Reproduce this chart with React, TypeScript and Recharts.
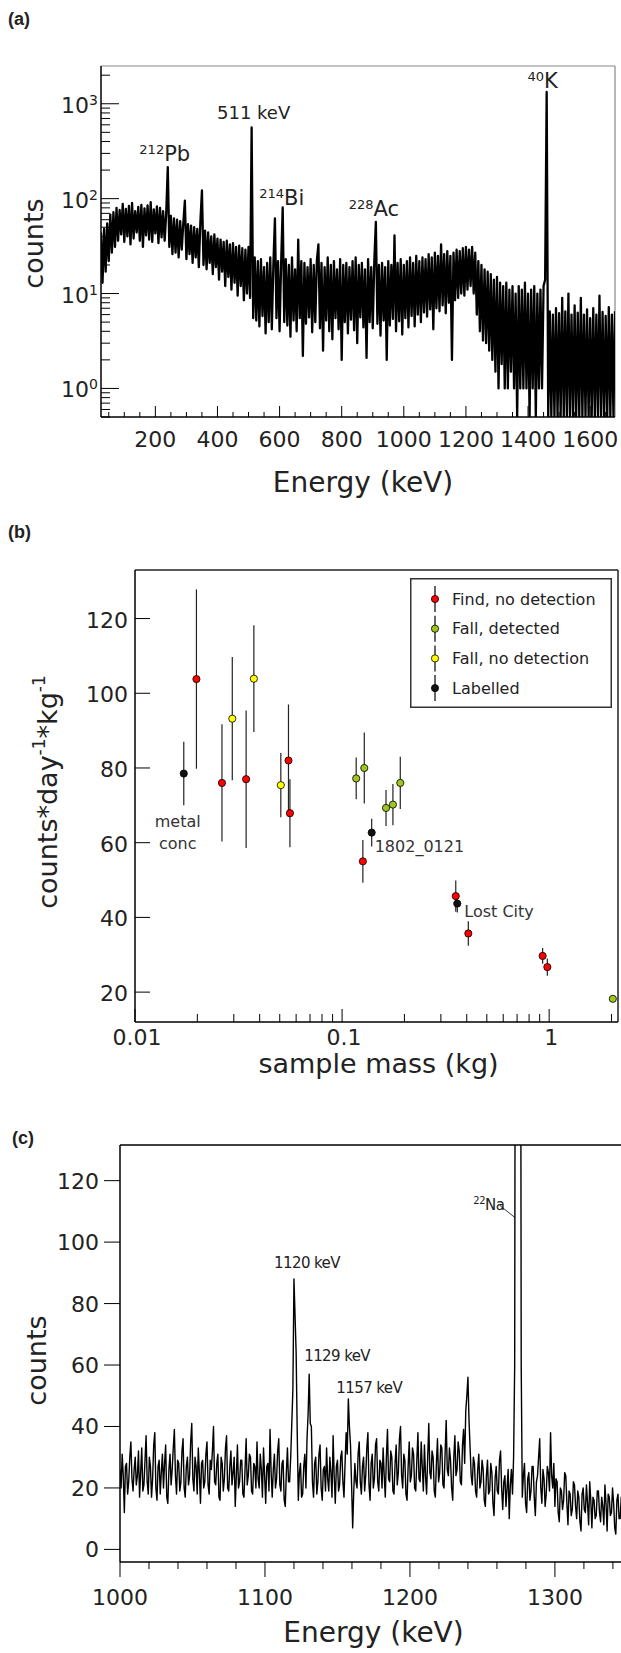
import React from "react";
import {
  LineChart,
  Line,
  ScatterChart,
  Scatter,
  ErrorBar,
  XAxis,
  YAxis,
  Label,
  Legend,
  ReferenceLine,
  ReferenceDot,
} from "recharts";

const FONT = "'DejaVu Sans', Verdana, sans-serif";
const INK = "#222";

// ---------- (a) background spectrum, 5 keV bins starting at 25 keV ----------
const A_START = 25;
const A_STEP = 5;
const countsA = [
  44, 13, 48, 17, 55, 22, 68, 27, 72, 31,
  80, 36, 76, 42, 88, 35, 78, 40, 84, 33,
  90, 38, 74, 44, 82, 36, 86, 31, 79, 41,
  85, 37, 92, 35, 77, 43, 83, 34, 80, 39,
  74, 36, 70, 215, 31, 66, 26, 62,
  27, 60, 24, 58, 29, 55, 95, 23, 54, 26,
  52, 21, 50, 24, 48, 19, 57, 122, 20, 46,
  18, 44, 21, 40, 16, 42, 19, 38, 14, 37,
  17, 35, 12, 36, 15, 33, 11, 34, 13, 31,
  9.5, 32, 12, 30, 8.5, 29, 10, 31,
  9, 562, 5.5, 24,
  5.2, 22, 4.5, 23, 5.8, 19, 3.8, 21, 5, 24,
  4.2, 20, 62, 5.5, 22, 4, 21, 81, 5, 23,
  4.6, 20, 3.5, 24, 5.2, 18, 4, 37, 5.5, 22,
  2.2, 21, 4.8, 19, 5.6, 23, 3.9, 20, 5, 22,
  33, 4.3, 21, 2.5, 19, 5.2, 24, 4, 20, 3.3,
  22, 5.5, 18, 4.2, 23, 2, 20, 5, 21, 3.8,
  19, 5.3, 22, 4.1, 24, 3, 20, 5.6, 21, 4.4,
  18, 2.1, 23, 5, 19, 4.3, 22, 57, 4.8, 20,
  3.6, 21, 5.2, 19, 2, 22, 4.6, 20, 5.4, 41,
  4, 21, 5.1, 23, 3.7, 20, 5.5, 22, 4.4, 24,
  5.8, 21, 4.5, 25, 6, 22, 5, 24, 6.3, 23,
  5.7, 26, 6.8, 24, 4.2, 27, 7, 25, 6.5, 33,
  7.5, 26, 6.2, 28, 8, 25, 2, 27, 8.5, 29,
  9, 28, 10, 30, 9.5, 31, 11, 29, 12, 31,
  10, 27, 6, 22, 4, 20, 3.2, 18, 3, 17,
  2.5, 16, 2, 14, 1.5, 15, 1, 13, 1.8, 12,
  1, 13, 1, 11, 1.5, 12, 1, 10, 0.5, 12,
  1, 11, 1, 13, 1, 10, 0.5, 11, 1, 12,
  0.5, 10, 1, 11, 1, 12, 14,
  1330,
  0.5, 6.5, 0.5, 6, 0.5, 7, 0.5, 6.2, 0.5, 9,
  0.5, 6.5, 0.5, 10, 0.5, 6, 0.5, 7.5, 0.5, 6.3,
  0.5, 9, 0.5, 6, 0.5, 6.8, 0.5, 5.5, 0.5, 7,
  0.5, 6, 0.5, 9.5, 0.5, 6.4, 0.5, 5.8, 0.5, 7.2,
  0.5, 6, 0.5, 6.5,
];

const peakLabelsA = [
  { e: 240, c: 215, sup: "212", text: "Pb" },
  { e: 510, c: 562, sup: "", text: "511 keV" },
  { e: 610, c: 81, sup: "214", text: "Bi" },
  { e: 910, c: 57, sup: "228", text: "Ac" },
  { e: 1460, c: 1330, sup: "40", text: "K" },
];
const peakLabelOffsetsA = [
  [-3, -6],
  [2, -9],
  [-1, -2],
  [-2, -6],
  [-4, -4],
];

const xMajorA = [200, 400, 600, 800, 1000, 1200, 1400, 1600];
const yMajorA = [1, 10, 100, 1000];

// ---------- (b) activity vs sample mass ----------
const findMass = [0.0198, 0.0263, 0.0344, 0.0551, 0.056, 0.126, 0.354, 0.407, 0.93, 0.98];
const findRate = [103.8, 76.0, 77.0, 82.0, 67.9, 55.0, 45.7, 35.7, 29.7, 26.7];
const findErr = [24, 15.7, 18.4, 15, 9.1, 5.7, 4.2, 3.3, 2.1, 2.3];

const fallDetMass = [0.117, 0.128, 0.163, 0.176, 0.191, 2.03];
const fallDetRate = [77.2, 80.0, 69.3, 70.2, 76.0, 18.2];
const fallDetErr = [5.6, 9.5, 4.8, 5.5, 7.0, 0.8];

const fallNoMass = [0.0295, 0.0375, 0.0506];
const fallNoRate = [93.2, 103.9, 75.4];
const fallNoErr = [16.5, 14.3, 8.6];

const labelledMass = [0.0172, 0.139, 0.36];
const labelledRate = [78.5, 62.7, 43.7];
const labelledErr = [8.5, 3.7, 2.4];
const labelledNames = ["metal conc", "1802_0121", "Lost City"];

const xMajorB = [0.01, 0.1, 1];
const yTicksB = [20, 40, 60, 80, 100, 120];

// ---------- (c) zoomed spectrum, 0.75 keV bins starting at 1000 keV ----------
const C_START = 1000;
const C_STEP = 0.75;
const countsC = [
  26, 20, 31, 24, 12, 27, 28, 18, 22, 30, 35, 23, 19, 26, 30, 21, 24, 32, 17, 25,
  33, 19, 21, 29, 37, 22, 18, 30, 27, 17, 23, 34, 38, 20, 16, 27, 29, 18, 25, 31,
  20, 28, 34, 17, 15, 26, 31, 21, 26, 33, 39, 24, 18, 29, 28, 19, 22, 32, 36, 20,
  17, 27, 30, 21, 24, 35, 41, 23, 19, 30, 27, 18, 33, 25, 15, 28, 29, 20, 22, 31,
  35, 21, 18, 29, 26, 32, 40, 22, 21, 28, 31, 17, 16, 30, 28, 19, 23, 33, 37, 20,
  19, 27, 32, 21, 25, 30, 14, 24, 34, 20, 22, 29, 29, 18, 17, 26, 36, 21, 24, 31,
  30, 19, 18, 28, 27, 20, 35, 23, 20, 31, 26, 17, 33, 24, 15, 27, 28, 19, 39, 25,
  17, 26, 31, 20, 23, 32, 36, 21, 19, 28, 29, 16, 14, 25, 33, 22, 22, 30, 41, 52,
  88, 76, 64, 38, 16, 25, 28, 17, 18, 27, 31, 20, 36, 44, 57, 41, 40, 22, 17, 28,
  30, 18, 22, 31, 34, 20, 16, 26, 27, 19, 33, 23, 19, 30, 25, 17, 37, 24, 15, 27,
  29, 19, 21, 30, 32, 22, 17, 28, 38, 31, 49, 40, 34, 21, 7, 19, 28, 22, 20, 31,
  35, 22, 18, 27, 30, 19, 24, 33, 38, 21, 16, 28, 31, 20, 23, 34, 36, 22, 19, 29,
  28, 20, 33, 24, 17, 30, 39, 23, 22, 32, 30, 19, 18, 28, 34, 21, 25, 36, 40, 24,
  20, 31, 29, 18, 16, 27, 35, 22, 24, 33, 31, 20, 19, 29, 38, 23, 22, 35, 27, 19,
  34, 24, 18, 30, 41, 25, 23, 32, 30, 19, 17, 28, 36, 22, 25, 34, 33, 21, 20, 31,
  42, 26, 24, 33, 29, 20, 16, 30, 37, 24, 26, 35, 32, 22, 21, 34, 39, 28, 45, 50,
  56, 42, 33, 24, 21, 30, 28, 19, 17, 26, 31, 20, 22, 29, 26, 16, 14, 24, 29, 18,
  19, 28, 25, 15, 11, 23, 27, 19, 18, 29, 32, 20, 13, 22, 24, 14, 20, 26, 10, 21,
  26, 18, 30, 60, 320, 340, 340, 340, 320, 60, 17, 24, 28, 15, 12, 23, 25, 16, 19, 27,
  27, 17, 11, 22, 24, 30, 36, 20, 15, 26, 23, 14, 18, 27, 25, 19, 38, 24, 20, 28,
  14, 23, 22, 12, 9, 20, 19, 13, 16, 25, 24, 15, 8, 19, 18, 11, 13, 22, 21, 14,
  10, 19, 17, 9, 6, 18, 20, 13, 12, 21, 15, 8, 22, 16, 7, 17, 16, 10, 11, 19,
  19, 12, 9, 17, 14, 8, 21, 15, 6, 18, 17, 11, 12, 20, 15, 7, 5, 16, 18, 10,
  10, 17, 13, 6, 19, 12, 7, 15, 14, 9, 11, 18, 16, 8, 6, 14, 13,
];

const peakLabelsC = [
  { e: 1120, c: 88, text: "1120 keV" },
  { e: 1130.5, c: 57, text: "1129 keV" },
  { e: 1157.5, c: 49, text: "1157 keV" },
];
const peakLabelOffsetsC = [
  [13, -11, "middle"],
  [-5, -13, "start"],
  [-12, -6, "start"],
];
const naLabel = { e: 1272.4, c: 108, sup: "22", text: "Na" };

const xMajorC = [1000, 1100, 1200, 1300];
const yTicksC = [0, 20, 40, 60, 80, 100, 120];

// ---------- derived tables ----------
const specA = countsA.map((c, i) => ({ e: A_START + i * A_STEP, c }));
const specC = countsC.map((c, i) => ({ e: C_START + i * C_STEP, c }));

const zip = (m: number[], v: number[], err: number[]) =>
  m.map((x, i) => ({ m: x, v: v[i], err: err[i] }));

const groupsB = [
  { name: "Find, no detection", color: "#ff0000", data: zip(findMass, findRate, findErr) },
  { name: "Fall, detected", color: "#9fc61f", data: zip(fallDetMass, fallDetRate, fallDetErr) },
  { name: "Fall, no detection", color: "#ffff00", data: zip(fallNoMass, fallNoRate, fallNoErr) },
  { name: "Labelled", color: "#111111", data: zip(labelledMass, labelledRate, labelledErr) },
];
const labelOffsetsB = [
  [-6, 53],
  [3, 19],
  [7, 13],
];

function logTicks(lo: number, hi: number) {
  const out: number[] = [];
  for (let p = -3; p <= 4; p++) {
    for (let k = 1; k <= 9; k++) {
      const v = +(k * Math.pow(10, p)).toPrecision(3);
      if (v >= lo && v <= hi) out.push(v);
    }
  }
  return out;
}

const ticksAX = Array.from({ length: 33 }, (_, i) => 50 + i * 50);
const ticksAY = logTicks(0.5, 2500);
const ticksBX = logTicks(0.01, 2.15);
const ticksCX = Array.from({ length: 18 }, (_, i) => 1000 + i * 20);

// ---------- tick renderers ----------
function TickAX(props: any) {
  const { x, y, payload } = props;
  const major = xMajorA.includes(payload.value);
  return (
    <g>
      <line x1={x} x2={x} y1={y} y2={y - (major ? 11 : 5)} stroke="#000" />
      {major && (
        <text x={x} y={y + 30} textAnchor="middle" fontSize={22} fill={INK}>
          {payload.value}
        </text>
      )}
    </g>
  );
}

function TickAY(props: any) {
  const { x, y, payload } = props;
  const major = yMajorA.includes(payload.value);
  const exp = Math.round(Math.log10(payload.value));
  return (
    <g>
      <line x1={x} x2={x + (major ? 18 : 9)} y1={y} y2={y} stroke="#000" />
      {major && (
        <text x={x - 3} y={y + 9} textAnchor="end" fontSize={22} fill={INK}>
          10
          <tspan fontSize={14} dy={-8}>
            {exp}
          </tspan>
        </text>
      )}
    </g>
  );
}

function TickBX(props: any) {
  const { x, y, payload } = props;
  const major = xMajorB.includes(payload.value);
  return (
    <g>
      <line x1={x} x2={x} y1={y} y2={y - (major ? 13 : 8)} stroke="#000" />
      {major && (
        <text x={x + 2} y={y + 23} textAnchor="middle" fontSize={22} fill={INK}>
          {payload.value}
        </text>
      )}
    </g>
  );
}

function TickBY(props: any) {
  const { x, y, payload } = props;
  return (
    <g>
      <line x1={x} x2={x + 15} y1={y} y2={y} stroke="#000" />
      <text x={x - 7} y={y + 9} textAnchor="end" fontSize={22} fill={INK}>
        {payload.value}
      </text>
    </g>
  );
}

function TickCX(props: any) {
  const { x, y, payload } = props;
  const major = xMajorC.includes(payload.value);
  return (
    <g>
      <line x1={x} x2={x} y1={y} y2={y + (major ? 15 : 7)} stroke="#000" />
      {major && (
        <text x={x} y={y + 43} textAnchor="middle" fontSize={22} fill={INK}>
          {payload.value}
        </text>
      )}
    </g>
  );
}

function TickCY(props: any) {
  const { x, y, payload } = props;
  return (
    <g>
      <line x1={x - 16} x2={x} y1={y} y2={y} stroke="#000" />
      <text x={x - 21} y={y + 8} textAnchor="end" fontSize={22} fill={INK}>
        {payload.value}
      </text>
    </g>
  );
}

// ---------- axis titles ----------
const xTitle = (text: string, dx: number, dy: number, size = 28) => (props: any) => {
  const vb = props.viewBox;
  return (
    <text x={vb.x + vb.width / 2 + dx} y={vb.y + dy} textAnchor="middle" fontSize={size} fill={INK}>
      {text}
    </text>
  );
};

const yTitle = (text: string, dx: number, dy: number) => (props: any) => {
  const vb = props.viewBox;
  const x = vb.x + dx;
  const y = vb.y + vb.height / 2 + dy;
  return (
    <text x={x} y={y} transform={`rotate(-90, ${x}, ${y})`} textAnchor="middle" fontSize={27} fill={INK}>
      {text}
    </text>
  );
};

const rateTitle = (props: any) => {
  const vb = props.viewBox;
  const x = vb.x - 18;
  const y = vb.y + vb.height / 2 - 4;
  return (
    <text x={x} y={y} transform={`rotate(-90, ${x}, ${y})`} textAnchor="middle" fontSize={27} fill={INK}>
      counts*day
      <tspan fontSize={17} dy={-12}>
        -1
      </tspan>
      <tspan dy={12}>*kg</tspan>
      <tspan fontSize={17} dy={-12}>
        -1
      </tspan>
    </text>
  );
};

const dotShape = (color: string) => (props: any) => (
  <circle cx={props.cx} cy={props.cy} r={3.6} fill={color} stroke="#000" strokeWidth={0.8} />
);

const legendB = () => (
  <svg width={202} height={130} style={{ display: "block" }}>
    <rect x={0.75} y={0.75} width={200.5} height={128.5} fill="#fff" stroke="#333" strokeWidth={1.5} />
    {groupsB.map((g, i) => {
      const cy = 21 + i * 29.7;
      return (
        <g key={g.name}>
          <line x1={25} x2={25} y1={cy - 13} y2={cy + 13} stroke="#000" strokeWidth={1.2} />
          <circle cx={25} cy={cy} r={3.6} fill={g.color} stroke="#000" strokeWidth={0.8} />
          <text x={42} y={cy + 5.5} fontSize={16} fill={INK}>
            {g.name}
          </text>
        </g>
      );
    })}
  </svg>
);

const axisLine = { stroke: "#000", strokeWidth: 1.5 };

export default function App() {
  return (
    <div
      style={{
        position: "absolute",
        left: 0,
        top: 0,
        width: 621,
        height: 1653,
        overflow: "hidden",
        background: "#fff",
        fontFamily: FONT,
      }}
    >
      {/* (a) */}
      <div style={{ position: "absolute", left: 0, top: 0 }}>
        <LineChart width={621} height={500} data={specA} margin={{ top: 66, right: 6, bottom: 0, left: 41 }}>
          <XAxis
            dataKey="e"
            type="number"
            domain={[25, 1680]}
            allowDataOverflow
            ticks={ticksAX}
            interval={0}
            tick={TickAX}
            tickLine={false}
            tickSize={0}
            tickMargin={0}
            height={83}
            axisLine={axisLine}
          >
            <Label content={xTitle("Energy (keV)", 5, 75)} />
          </XAxis>
          <YAxis
            type="number"
            scale="log"
            domain={[0.5, 2500]}
            allowDataOverflow
            ticks={ticksAY}
            interval={0}
            tick={TickAY}
            tickLine={false}
            tickSize={0}
            tickMargin={0}
            width={60}
            axisLine={axisLine}
          >
            <Label content={yTitle("counts", 2, 2)} />
          </YAxis>
          <ReferenceLine y={2500} stroke="#888" strokeWidth={1.2} />
          <ReferenceLine x={1680} stroke="#888" strokeWidth={1.2} />
          <Line
            type="linear"
            dataKey="c"
            stroke="#000"
            strokeWidth={2.3}
            strokeLinejoin="round"
            dot={false}
            isAnimationActive={false}
          />
          {peakLabelsA.map((p, i) => (
            <ReferenceDot
              key={p.text}
              x={p.e}
              y={p.c}
              r={0}
              shape={(d: any) => (
                <text
                  x={d.cx + peakLabelOffsetsA[i][0]}
                  y={d.cy + peakLabelOffsetsA[i][1]}
                  textAnchor="middle"
                  fill={INK}
                  fontSize={p.sup ? 21 : 18}
                >
                  {p.sup && (
                    <tspan fontSize={13} dy={-7}>
                      {p.sup}
                    </tspan>
                  )}
                  <tspan dy={p.sup ? 7 : 0}>{p.text}</tspan>
                </text>
              )}
            />
          ))}
        </LineChart>
      </div>

      {/* (b) */}
      <div style={{ position: "absolute", left: 0, top: 540 }}>
        <ScatterChart width={621} height={560} margin={{ top: 30, right: 3, bottom: 0, left: 75 }}>
          <XAxis
            dataKey="m"
            type="number"
            scale="log"
            domain={[0.01, 2.15]}
            allowDataOverflow
            ticks={ticksBX}
            interval={0}
            tick={TickBX}
            tickLine={false}
            tickSize={0}
            tickMargin={0}
            height={78}
            axisLine={axisLine}
          >
            <Label content={xTitle("sample mass (kg)", 2, 51, 27)} />
          </XAxis>
          <YAxis
            dataKey="v"
            type="number"
            domain={[12, 133]}
            allowDataOverflow
            ticks={yTicksB}
            interval={0}
            tick={TickBY}
            tickLine={false}
            tickSize={0}
            tickMargin={0}
            width={60}
            axisLine={axisLine}
          >
            <Label content={rateTitle} />
          </YAxis>
          <ReferenceLine y={133} stroke="#222" strokeWidth={1.5} />
          <ReferenceLine x={2.15} stroke="#222" strokeWidth={1.5} />
          {groupsB.map((g) => (
            <Scatter
              key={g.name}
              name={g.name}
              data={g.data}
              fill={g.color}
              shape={dotShape(g.color)}
              isAnimationActive={false}
            >
              <ErrorBar
                dataKey="err"
                direction="y"
                width={0}
                stroke="#222"
                strokeWidth={1.2}
                isAnimationActive={false}
              />
            </Scatter>
          ))}
          {labelledNames.map((name, i) => (
            <ReferenceDot
              key={name}
              x={labelledMass[i]}
              y={labelledRate[i]}
              r={0}
              shape={(d: any) =>
                i === 0 ? (
                  <text textAnchor="middle" fontSize={16} fill="#333">
                    {name.split(" ").map((w, k) => (
                      <tspan key={w} x={d.cx + labelOffsetsB[i][0]} y={d.cy + labelOffsetsB[i][1] + k * 22}>
                        {w}
                      </tspan>
                    ))}
                  </text>
                ) : (
                  <text
                    x={d.cx + labelOffsetsB[i][0]}
                    y={d.cy + labelOffsetsB[i][1]}
                    fontSize={16}
                    fill="#333"
                  >
                    {name}
                  </text>
                )
              }
            />
          ))}
          <Legend
            verticalAlign="middle"
            align="center"
            layout="horizontal"
            content={legendB}
            wrapperStyle={{ position: "absolute", left: 410, top: 38, width: 202, height: 130 }}
          />
        </ScatterChart>
      </div>

      {/* (c) */}
      <div style={{ position: "absolute", left: 0, top: 1110 }}>
        <LineChart width={650} height={543} data={specC} margin={{ top: 35, right: 11, bottom: 0, left: 60 }}>
          <XAxis
            dataKey="e"
            type="number"
            domain={[1000, 1358]}
            allowDataOverflow
            ticks={ticksCX}
            interval={0}
            tick={TickCX}
            tickLine={false}
            tickSize={0}
            tickMargin={0}
            height={91}
            axisLine={axisLine}
          >
            <Label content={xTitle("Energy (keV)", -6, 80)} />
          </XAxis>
          <YAxis
            type="number"
            domain={[-4.1, 131.6]}
            allowDataOverflow
            ticks={yTicksC}
            interval={0}
            tick={TickCY}
            tickLine={false}
            tickSize={0}
            tickMargin={0}
            width={60}
            axisLine={axisLine}
          >
            <Label content={yTitle("counts", -14, 7)} />
          </YAxis>
          <ReferenceLine y={131.6} stroke="#000" strokeWidth={1.5} />
          <Line
            type="linear"
            dataKey="c"
            stroke="#000"
            strokeWidth={1.4}
            strokeLinejoin="round"
            dot={false}
            isAnimationActive={false}
          />
          {peakLabelsC.map((p, i) => (
            <ReferenceDot
              key={p.text}
              x={p.e}
              y={p.c}
              r={0}
              shape={(d: any) => (
                <text
                  x={d.cx + (peakLabelOffsetsC[i][0] as number)}
                  y={d.cy + (peakLabelOffsetsC[i][1] as number)}
                  textAnchor={peakLabelOffsetsC[i][2] as any}
                  fontSize={15}
                  letterSpacing={-0.6}
                  fill={INK}
                >
                  {p.text}
                </text>
              )}
            />
          ))}
          <ReferenceDot
            x={naLabel.e}
            y={naLabel.c}
            r={0}
            shape={(d: any) => (
              <g>
                <line x1={d.cx} y1={d.cy} x2={d.cx - 15} y2={d.cy - 12} stroke="#000" strokeWidth={0.8} />
                <text x={d.cx - 26} y={d.cy - 8} textAnchor="middle" fontSize={15} letterSpacing={-0.5} fill={INK}>
                  <tspan fontSize={10} dy={-6}>
                    {naLabel.sup}
                  </tspan>
                  <tspan dy={6}>{naLabel.text}</tspan>
                </text>
              </g>
            )}
          />
        </LineChart>
      </div>

      <svg
        width={621}
        height={1653}
        style={{ position: "absolute", left: 0, top: 0, pointerEvents: "none" }}
      >
        <g fontFamily="'Liberation Sans', Arial, sans-serif" fontWeight="bold" fontSize={18} fill={INK}>
          <text x={8} y={25}>(a)</text>
          <text x={8} y={538}>(b)</text>
          <text x={12} y={1144}>(c)</text>
        </g>
      </svg>
    </div>
  );
}
